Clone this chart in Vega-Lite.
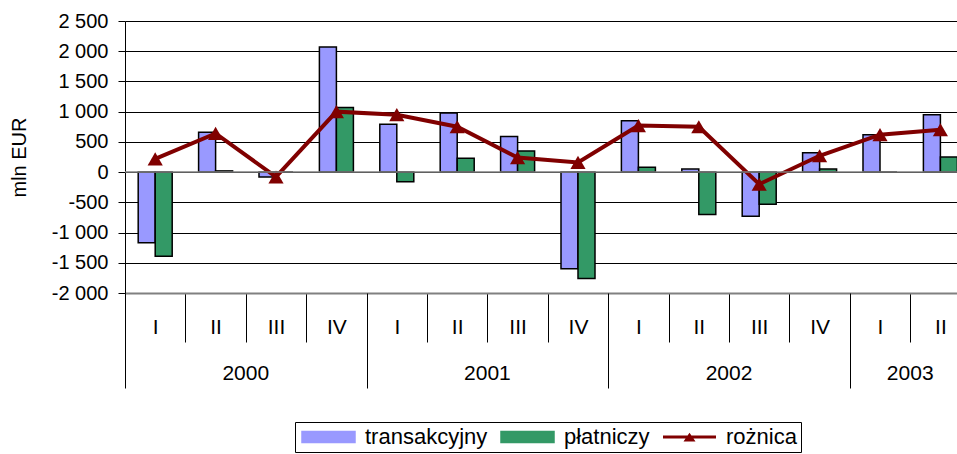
{
  "$schema": "https://vega.github.io/schema/vega-lite/v6.json",
  "width": 832,
  "height": 272,
  "autosize": {"type": "none"},
  "padding": {"left": 125, "top": 21, "right": 0, "bottom": 161},
  "config": {
    "font": "Liberation Sans",
    "view": {"stroke": null},
    "locale": {"number": {"decimal": ",", "thousands": " ", "grouping": [3], "currency": ["", ""], "minus": "-"}},
    "axisY": {
      "values": [-2000,-1500,-1000,-500,0,500,1000,1500,2000,2500], "format": ",d",
      "grid": true, "gridColor": "#000", "gridWidth": 1, "domainColor": "#000", "tickColor": "#000", "tickSize": 7,
      "labelPadding": 10, "labelFontSize": 20, "labelColor": "#000", "titleFontSize": 20, "titleFontWeight": "normal",
      "titleColor": "#000", "titlePadding": 22
    },
    "axisX": {"title": null, "grid": false, "labelAngle": 0, "labelColor": "#000", "labelFontSize": 21, "tickColor": "#000", "tickWidth": 1}
  },
  "data": {
    "values": [
      {"key": "2000 I", "series": "transakcyjny", "value": -1170},
      {"key": "2000 I", "series": "płatniczy", "value": -1390},
      {"key": "2000 I", "series": "rożnica", "value": 220},
      {"key": "2000 II", "series": "transakcyjny", "value": 660},
      {"key": "2000 II", "series": "płatniczy", "value": 20},
      {"key": "2000 II", "series": "rożnica", "value": 640},
      {"key": "2000 III", "series": "transakcyjny", "value": -80},
      {"key": "2000 III", "series": "płatniczy", "value": 0},
      {"key": "2000 III", "series": "rożnica", "value": -80},
      {"key": "2000 IV", "series": "transakcyjny", "value": 2070},
      {"key": "2000 IV", "series": "płatniczy", "value": 1070},
      {"key": "2000 IV", "series": "rożnica", "value": 1000},
      {"key": "2001 I", "series": "transakcyjny", "value": 790},
      {"key": "2001 I", "series": "płatniczy", "value": -160},
      {"key": "2001 I", "series": "rożnica", "value": 950},
      {"key": "2001 II", "series": "transakcyjny", "value": 980},
      {"key": "2001 II", "series": "płatniczy", "value": 230},
      {"key": "2001 II", "series": "rożnica", "value": 750},
      {"key": "2001 III", "series": "transakcyjny", "value": 590},
      {"key": "2001 III", "series": "płatniczy", "value": 350},
      {"key": "2001 III", "series": "rożnica", "value": 240},
      {"key": "2001 IV", "series": "transakcyjny", "value": -1600},
      {"key": "2001 IV", "series": "płatniczy", "value": -1760},
      {"key": "2001 IV", "series": "rożnica", "value": 160},
      {"key": "2002 I", "series": "transakcyjny", "value": 850},
      {"key": "2002 I", "series": "płatniczy", "value": 80},
      {"key": "2002 I", "series": "rożnica", "value": 770},
      {"key": "2002 II", "series": "transakcyjny", "value": 50},
      {"key": "2002 II", "series": "płatniczy", "value": -700},
      {"key": "2002 II", "series": "rożnica", "value": 750},
      {"key": "2002 III", "series": "transakcyjny", "value": -730},
      {"key": "2002 III", "series": "płatniczy", "value": -530},
      {"key": "2002 III", "series": "rożnica", "value": -200},
      {"key": "2002 IV", "series": "transakcyjny", "value": 320},
      {"key": "2002 IV", "series": "płatniczy", "value": 50},
      {"key": "2002 IV", "series": "rożnica", "value": 270},
      {"key": "2003 I", "series": "transakcyjny", "value": 620},
      {"key": "2003 I", "series": "płatniczy", "value": 0},
      {"key": "2003 I", "series": "rożnica", "value": 620},
      {"key": "2003 II", "series": "transakcyjny", "value": 950},
      {"key": "2003 II", "series": "płatniczy", "value": 250},
      {"key": "2003 II", "series": "rożnica", "value": 700}
    ]
  },
  "layer": [
    {
      "transform": [{"filter": "datum.series !== 'rożnica'"}],
      "mark": {"type": "bar", "stroke": "#000", "strokeWidth": 1.5},
      "encoding": {
        "x": {
          "field": "key", "type": "nominal",
          "scale": {
            "domain": ["2000 I","2000 II","2000 III","2000 IV","2001 I","2001 II","2001 III","2001 IV","2002 I","2002 II","2002 III","2002 IV","2003 I","2003 II"],
            "range": [0, 845.6], "paddingInner": 0.437, "paddingOuter": 0.2185
          },
          "axis": {
            "orient": "bottom", "tickOffset": -30.2, "tickSize": 49,
            "domainColor": "#808080", "domainWidth": 2, "labelExpr": "slice(datum.value, 5)",
            "labelOffset": 30.2, "labelBaseline": "middle", "labelPadding": -15
          }
        },
        "xOffset": {"field": "series", "type": "nominal", "sort": ["transakcyjny", "płatniczy"], "scale": {"paddingInner": 0, "paddingOuter": 0}},
        "y": {
          "field": "value", "type": "quantitative", "title": "mln EUR",
          "scale": {"domain": [-2000, 2500], "nice": false}
        },
        "color": {
          "field": "series", "type": "nominal",
          "scale": {"domain": ["transakcyjny", "płatniczy", "rożnica"], "range": ["#9999FF", "#339966", "#800000"]},
          "legend": {
            "orient": "none", "legendX": 170, "legendY": 401, "direction": "horizontal", "columns": 3, "title": null,
            "symbolSize": 256, "symbolType": "square", "labelFontSize": 22, "labelColor": "#000", "labelOffset": 44,
            "columnPadding": 10, "padding": 4, "strokeColor": "#000", "fillColor": "#fff", "labelLimit": 0,
            "symbolStrokeWidth": 1.5, "symbolOpacity": 1, "symbolStrokeColor": "#000",
            "encode": {
              "symbols": {
                "update": {
                  "shape": {"signal": "datum.value === 'rożnica' ? 'M-1,-0.1875H5.625V0.1875H-1Z M1.5625,0.56L2.3125,-0.54L3.0625,0.56Z' : 'M-1,-0.6875H5.625V0.6875H-1Z'"},
                  "fill": {"signal": "scale('color', datum.value)"},
                  "stroke": {"value": "#000"},
                  "strokeWidth": {"signal": "datum.value === 'rożnica' ? 0 : 1.5"},
                  "strokeOpacity": {"value": 1},
                  "fillOpacity": {"value": 1}
                }
              }
            }
          }
        }
      }
    },
    {
      "transform": [{"filter": "datum.series === 'rożnica'"}],
      "mark": {"type": "line", "strokeWidth": 4},
      "encoding": {
        "x": {
          "field": "key", "type": "nominal",
          "axis": {
            "orient": "bottom", "domain": false, "labels": false,
            "values": ["2000 I", "2001 I", "2002 I", "2003 I"],
            "tickOffset": -30.2, "tickSize": 95
          }
        },
        "y": {"field": "value", "type": "quantitative", "title": "mln EUR"},
        "color": {"field": "series", "type": "nominal"}
      }
    },
    {
      "transform": [{"filter": "datum.series === 'rożnica'"}],
      "mark": {"type": "point", "shape": "triangle-up", "size": 230, "filled": true, "color": "#800000", "opacity": 1},
      "encoding": {
        "x": {
          "field": "key", "type": "nominal",
          "axis": {
            "orient": "bottom", "domain": false, "ticks": false, "tickSize": 0,
            "values": ["2000 II", "2001 II", "2002 II", "2003 I"],
            "labelExpr": "slice(datum.value, 0, 4)",
            "labelOffset": 30.2, "labelBaseline": "middle", "labelPadding": 80
          }
        },
        "y": {"field": "value", "type": "quantitative", "title": "mln EUR"}
      }
    },
    {
      "data": {"values": [{"zero": 0}]},
      "mark": {"type": "rule", "color": "#808080", "strokeWidth": 1.5},
      "encoding": {
        "y": {"field": "zero", "type": "quantitative", "title": "mln EUR"}
      }
    }
  ],
  "resolve": {"axis": {"x": "independent"}}
}
